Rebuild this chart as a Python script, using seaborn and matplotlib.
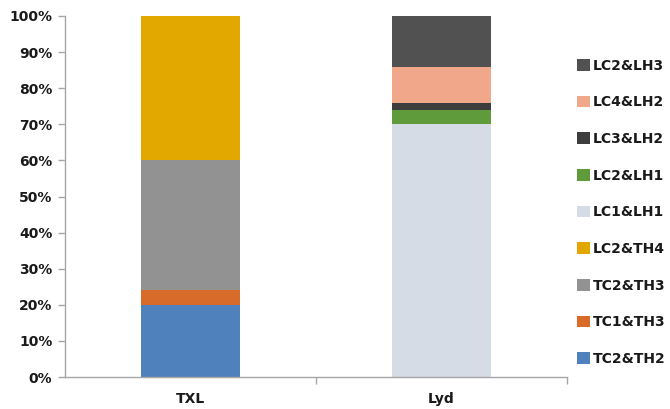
import matplotlib
matplotlib.use("Agg")
import matplotlib.pyplot as plt
from matplotlib.patches import Patch
from matplotlib.ticker import PercentFormatter, FixedLocator
import seaborn as sns
import pandas as pd
import numpy as np

sns.set_theme(style="white")
plt.rcParams["font.family"] = ["DejaVu Sans"]

# Categories on the x axis
categories = ["TXL", "Lyd"]

# Stack segments, bottom to top (percent of each column)
series = ["TC2&TH2", "TC1&TH3", "TC2&TH3", "LC2&TH4",
          "LC1&LH1", "LC2&LH1", "LC3&LH2", "LC4&LH2", "LC2&LH3"]
txl_values = [20, 4, 36, 40, 0, 0, 0, 0, 0]
lyd_values = [0, 0, 0, 0, 70, 4, 2, 10, 14]

colors = ["#4F81BD", "#D96B2A", "#929292", "#E2A800",
          "#D6DCE6", "#5F9A3B", "#3D3D3D", "#F1A78A", "#515151"]

df = pd.DataFrame({"series": series, "TXL": txl_values, "Lyd": lyd_values})

fig = plt.figure(figsize=(6.70, 4.09), dpi=100)
ax = fig.add_axes([0.097, 0.078, 0.749, 0.883])

bottom = np.zeros(len(categories))
for i, row in df.iterrows():
    vals = np.array([row["TXL"], row["Lyd"]], dtype=float)
    seg = pd.DataFrame({"cat": categories, "val": vals})
    sns.barplot(data=seg, x="cat", y="val", order=categories, color=colors[i],
                bottom=bottom, width=0.395, saturation=1, ax=ax, linewidth=0)
    bottom = bottom + vals

ax.set_xlim(-0.5, 1.5)
ax.set_ylim(0, 100)
ax.set_yticks(np.arange(0, 101, 10))
ax.yaxis.set_major_formatter(PercentFormatter(decimals=0))
ax.set_xlabel("")
ax.set_ylabel("")

for s in ["top", "right"]:
    ax.spines[s].set_visible(False)
for s in ["left", "bottom"]:
    ax.spines[s].set_color("#A6A6A6")
    ax.spines[s].set_linewidth(1.0)

ax.tick_params(axis="y", which="major", direction="out", length=5, width=1,
               color="#A6A6A6", left=True, labelsize=10, pad=4)
ax.tick_params(axis="x", which="major", length=0, labelsize=10, pad=11)
ax.xaxis.set_minor_locator(FixedLocator([0.5, 1.5]))
ax.tick_params(axis="x", which="minor", direction="out", length=5, width=1,
               color="#A6A6A6", bottom=True)
for lbl in ax.get_xticklabels() + ax.get_yticklabels():
    lbl.set_fontweight("bold")
    lbl.set_color("#1A1A1A")

handles = [Patch(facecolor=c, edgecolor="none") for c in colors][::-1]
labels = series[::-1]
leg = fig.legend(handles, labels, loc="upper left", bbox_to_anchor=(0.843, 0.887),
                 frameon=False, handlelength=0.9, handleheight=0.9,
                 handletextpad=0.2, labelspacing=1.63,
                 prop={"size": 10, "weight": "bold"})
for t in leg.get_texts():
    t.set_color("#1A1A1A")

fig.savefig("out.png", dpi=100, facecolor="white")
